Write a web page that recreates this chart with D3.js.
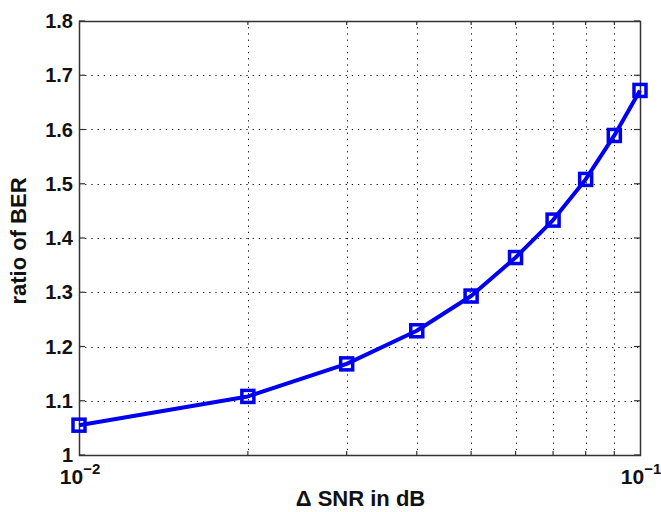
<!DOCTYPE html>
<html>
<head>
<meta charset="utf-8">
<script src="https://cdn.jsdelivr.net/npm/d3@7"></script>
<style>
  body { margin: 0; background: #fff; }
  svg { display: block; font-family: "Liberation Sans", Arial, Helvetica, sans-serif; font-weight: bold; }
</style>
</head>
<body>
<svg width="661" height="512"></svg>
<script>
// Data
const snrDelta = [0.01, 0.02, 0.03, 0.04, 0.05, 0.06, 0.07, 0.08, 0.09, 0.1];
const berRatio = [1.055, 1.108, 1.168, 1.229, 1.293, 1.364, 1.433, 1.508, 1.589, 1.672];
const yTicks = [1, 1.1, 1.2, 1.3, 1.4, 1.5, 1.6, 1.7, 1.8];
const xMajor = [0.01, 0.1];
const xMajorExp = ["\u22122", "\u22121"];
const xMinor = [0.02, 0.03, 0.04, 0.05, 0.06, 0.07, 0.08, 0.09];

// Plot box
const plotLeft = 79, plotRight = 640, plotTop = 21, plotBottom = 455;

const svg = d3.select("svg");

const x = d3.scaleLog().domain([0.01, 0.1]).range([plotLeft, plotRight]);
const y = d3.scaleLinear().domain([1, 1.8]).range([plotBottom, plotTop]);

// Dotted grid
const grid = svg.append("g")
    .attr("stroke", "#000")
    .attr("stroke-width", 1)
    .attr("stroke-dasharray", "1.2,5");

grid.selectAll("line.gy")
    .data(yTicks.slice(1, -1))
    .join("line")
    .attr("class", "gy")
    .attr("x1", plotLeft).attr("x2", plotRight)
    .attr("y1", d => Math.round(y(d)) + 0.5).attr("y2", d => Math.round(y(d)) + 0.5);

grid.selectAll("line.gx")
    .data(xMinor)
    .join("line")
    .attr("class", "gx")
    .attr("x1", d => Math.round(x(d)) + 0.5).attr("x2", d => Math.round(x(d)) + 0.5)
    .attr("y1", plotTop).attr("y2", plotBottom);

// Box
svg.append("rect")
    .attr("x", plotLeft + 0.5).attr("y", plotTop + 0.5)
    .attr("width", plotRight - plotLeft).attr("height", plotBottom - plotTop)
    .attr("fill", "none")
    .attr("stroke", "#333")
    .attr("stroke-width", 1.5);

// Inward ticks on all four sides
const ticks = svg.append("g").attr("stroke", "#333").attr("stroke-width", 1.2);
const tl = 6;
yTicks.forEach(v => {
    ticks.append("line").attr("x1", plotLeft).attr("x2", plotLeft + tl).attr("y1", y(v)).attr("y2", y(v));
    ticks.append("line").attr("x1", plotRight - tl).attr("x2", plotRight).attr("y1", y(v)).attr("y2", y(v));
});
xMinor.forEach(v => {
    ticks.append("line").attr("x1", x(v)).attr("x2", x(v)).attr("y1", plotBottom).attr("y2", plotBottom - 4);
    ticks.append("line").attr("x1", x(v)).attr("x2", x(v)).attr("y1", plotTop).attr("y2", plotTop + 4);
});

// Y tick labels
svg.append("g")
    .selectAll("text")
    .data(yTicks)
    .join("text")
    .attr("x", plotLeft - 6)
    .attr("y", d => y(d))
    .attr("dy", "0.36em")
    .attr("text-anchor", "end")
    .attr("font-size", 20)
    .attr("fill", "#111")
    .text(d => String(+d.toFixed(1)));

// X tick labels (10^n)
const xl = svg.append("g")
    .selectAll("text")
    .data(xMajor)
    .join("text")
    .attr("x", d => x(d) + 1)
    .attr("y", 484)
    .attr("text-anchor", "middle")
    .attr("font-size", 21)
    .attr("fill", "#111");
xl.append("tspan").text("10");
xl.append("tspan")
    .attr("font-size", 15)
    .attr("dy", -10)
    .text((d, i) => xMajorExp[i]);

// Axis titles
svg.append("text")
    .attr("x", (plotLeft + plotRight) / 2 + 1)
    .attr("y", 506)
    .attr("text-anchor", "middle")
    .attr("font-size", 22)
    .attr("fill", "#111")
    .text("\u0394 SNR in dB");

svg.append("text")
    .attr("transform", `translate(26, ${(plotTop + plotBottom) / 2 + 3}) rotate(-90)`)
    .attr("text-anchor", "middle")
    .attr("font-size", 22)
    .attr("fill", "#111")
    .text("ratio of BER");

// Line
const line = d3.line()
    .x((d, i) => x(snrDelta[i]))
    .y(d => y(d));

svg.append("path")
    .datum(berRatio)
    .attr("d", line)
    .attr("fill", "none")
    .attr("stroke", "#0000f0")
    .attr("stroke-width", 4)
    .attr("stroke-linejoin", "round");

// Square markers
const ms = 12;
svg.append("g")
    .selectAll("rect")
    .data(berRatio)
    .join("rect")
    .attr("x", (d, i) => x(snrDelta[i]) - ms / 2)
    .attr("y", d => y(d) - ms / 2)
    .attr("width", ms)
    .attr("height", ms)
    .attr("fill", "none")
    .attr("stroke", "#0000f0")
    .attr("stroke-width", 3.5);
</script>
</body>
</html>
